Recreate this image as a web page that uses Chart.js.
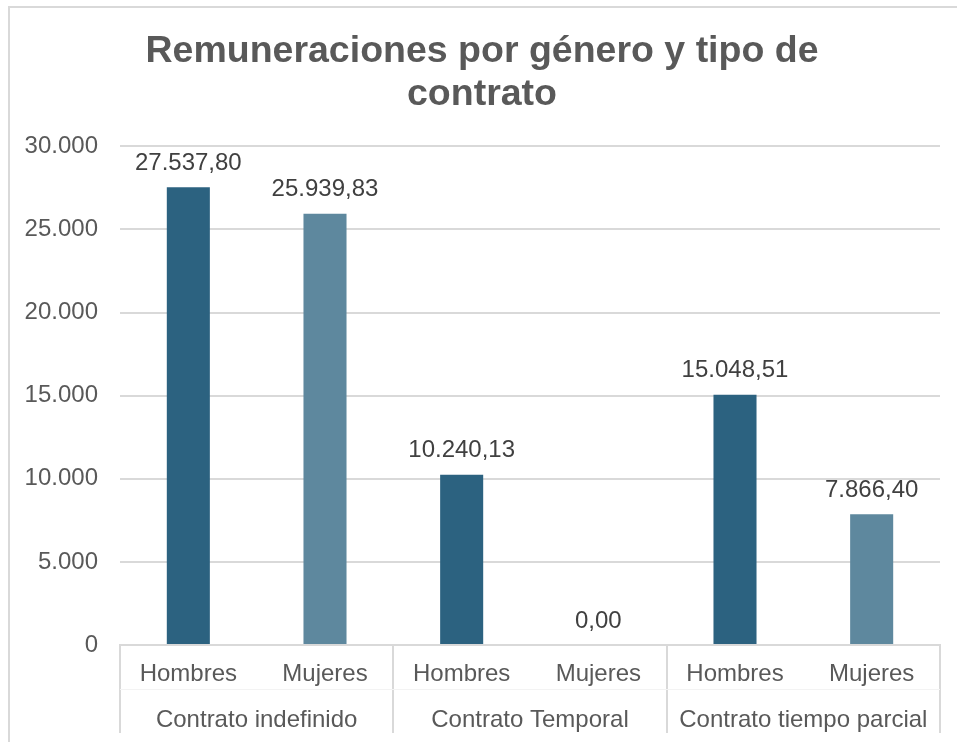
<!DOCTYPE html>
<html>
<head>
    <meta charset="utf-8">
    <title>Remuneraciones por género y tipo de contrato</title>
    <script src="https://cdn.jsdelivr.net/npm/chart.js"></script>
    <style>
        html, body { margin: 0; padding: 0; background: #fff; }
        #wrap { position: relative; width: 957px; height: 742px; }
        #frame { position: absolute; left: 8px; top: 6px; right: 0; bottom: 0;
                 border-top: 2px solid #d9d9d9; border-left: 2px solid #d9d9d9; }
        canvas { position: absolute; left: 0; top: 0; }
    </style>
</head>
<body>
    <div id="wrap">
        <div id="frame"></div>
        <canvas id="myChart" width="957" height="742"></canvas>
    </div>
    <script>
        var generos = ['Hombres', 'Mujeres', 'Hombres', 'Mujeres', 'Hombres', 'Mujeres'];
        var contratos = ['Contrato indefinido', 'Contrato Temporal', 'Contrato tiempo parcial'];
        var remuneraciones = [27537.80, 25939.83, 10240.13, 0.00, 15048.51, 7866.40];
        var colores = ['#2c6280', '#5e889e', '#2c6280', '#5e889e', '#2c6280', '#5e889e'];

        var FONT = "'Liberation Sans', Arial, sans-serif";

        // miles con punto, decimales con coma
        function formato(v, dec) {
            var partes = v.toFixed(dec).split('.');
            partes[0] = partes[0].replace(/\B(?=(\d{3})+(?!\d))/g, '.');
            return partes.join(',');
        }

        var etiquetas = {
            id: 'etiquetas',
            afterDatasetsDraw: function(chart) {
                var ctx = chart.ctx;
                var meta = chart.getDatasetMeta(0);
                ctx.save();
                ctx.font = '24px ' + FONT;
                ctx.fillStyle = '#404040';
                ctx.textAlign = 'center';
                ctx.textBaseline = 'middle';
                meta.data.forEach(function(bar, i) {
                    ctx.fillText(formato(remuneraciones[i], 2), bar.x, bar.y - 24);
                });
                ctx.restore();
            }
        };

        var separadores = {
            id: 'separadores',
            afterDraw: function(chart) {
                var ctx = chart.ctx;
                var x = chart.scales.x;
                var x2 = chart.scales.x2;
                var top = chart.chartArea.bottom;
                var bottom = x2.bottom;
                var xs = [x.left];
                for (var i = 2; i < generos.length; i += 2) {
                    xs.push((x.getPixelForTick(i - 1) + x.getPixelForTick(i)) / 2);
                }
                xs.push(x.right);
                ctx.save();
                ctx.strokeStyle = '#d9d9d9';
                ctx.lineWidth = 2;
                xs.forEach(function(px) {
                    px = Math.round(px);
                    ctx.beginPath();
                    ctx.moveTo(px, top);
                    ctx.lineTo(px, bottom);
                    ctx.stroke();
                });
                ctx.strokeStyle = '#f3f3f3';
                ctx.lineWidth = 1;
                ctx.beginPath();
                ctx.moveTo(x.left, x.bottom + 0.5);
                ctx.lineTo(x.right, x.bottom + 0.5);
                ctx.stroke();
                ctx.restore();
            }
        };

        var ctx = document.getElementById('myChart').getContext('2d');
        var myChart = new Chart(ctx, {
            type: 'bar',
            data: {
                labels: generos,
                datasets: [{
                    data: remuneraciones,
                    backgroundColor: colores,
                    barPercentage: 0.315,
                    categoryPercentage: 1
                }]
            },
            plugins: [etiquetas, separadores],
            options: {
                responsive: false,
                animation: false,
                layout: { padding: { top: 6, right: 17, bottom: 9, left: 24 } },
                plugins: {
                    legend: { display: false },
                    tooltip: { enabled: false },
                    title: {
                        display: true,
                        text: ['Remuneraciones por género y tipo de', 'contrato'],
                        color: '#595959',
                        font: { family: FONT, size: 37.5, weight: 'bold', lineHeight: 1.15 },
                        padding: { top: 24, bottom: 30 }
                    }
                },
                scales: {
                    x: {
                        type: 'category',
                        offset: true,
                        weight: 0,
                        grid: { display: false },
                        border: { display: true, color: '#d9d9d9', width: 2 },
                        ticks: { color: '#595959', font: { family: FONT, size: 24 }, padding: 7, maxRotation: 0 },
                        afterFit: function(s) { s.height = 44; }
                    },
                    x2: {
                        type: 'category',
                        position: 'bottom',
                        labels: contratos,
                        offset: true,
                        weight: 1,
                        grid: { display: false },
                        border: { display: false },
                        ticks: { color: '#595959', font: { family: FONT, size: 24 }, padding: 9, maxRotation: 0 },
                        afterFit: function(s) { s.height = 44; }
                    },
                    y: {
                        min: 0,
                        max: 30000,
                        ticks: {
                            stepSize: 5000,
                            color: '#595959',
                            font: { family: FONT, size: 24 },
                            padding: 22,
                            callback: function(v) { return formato(v, 0); }
                        },
                        grid: { color: '#d9d9d9', lineWidth: 2, drawTicks: false },
                        border: { display: false },
                        afterFit: function(s) { s.width = 96; }
                    }
                }
            }
        });
    </script>
</body>
</html>
